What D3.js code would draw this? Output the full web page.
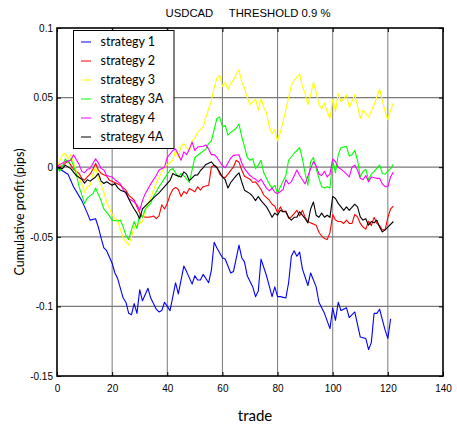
<!DOCTYPE html>
<html>
<head>
<meta charset="utf-8">
<script src="https://cdn.jsdelivr.net/npm/d3@7"></script>
<style>
  body { margin: 0; background: #fff; }
  svg { display: block; }
</style>
</head>
<body>
<svg id="chart" width="457" height="429"></svg>
<script>
// Cumulative profit per trade, one [trade, profit] list per strategy
const strategy1 = [[0,0],[4,-0.005],[6,-0.014],[9,-0.024],[11,-0.033],[12,-0.038],[14,-0.037],[15,-0.043],[16,-0.051],[17,-0.058],[18,-0.060],[20,-0.069],[21,-0.076],[22,-0.080],[23,-0.087],[24,-0.094],[25,-0.097],[26,-0.105],[27,-0.106],[28,-0.098],[29,-0.105],[30,-0.088],[31,-0.096],[33,-0.087],[34,-0.094],[36,-0.102],[37,-0.104],[38,-0.103],[39,-0.097],[40,-0.100],[41,-0.103],[43,-0.083],[44,-0.091],[46,-0.071],[47,-0.075],[49,-0.084],[50,-0.078],[51,-0.081],[52,-0.081],[53,-0.077],[55,-0.083],[56,-0.074],[57,-0.054],[58,-0.058],[60,-0.065],[61,-0.066],[63,-0.076],[64,-0.075],[66,-0.056],[67,-0.065],[68,-0.068],[69,-0.078],[71,-0.086],[72,-0.093],[73,-0.089],[74,-0.066],[76,-0.078],[78,-0.093],[79,-0.086],[80,-0.093],[81,-0.093],[83,-0.094],[84,-0.083],[85,-0.064],[86,-0.060],[87,-0.064],[88,-0.061],[89,-0.073],[91,-0.085],[92,-0.076],[94,-0.086],[95,-0.097],[97,-0.105],[99,-0.116],[100,-0.101],[101,-0.110],[102,-0.097],[103,-0.103],[105,-0.101],[106,-0.108],[108,-0.104],[110,-0.122],[112,-0.123],[113,-0.131],[114,-0.126],[115,-0.105],[116,-0.105],[117,-0.102],[119,-0.117],[120,-0.123],[121,-0.109]];

const strategy2 = [[0,0],[2,0.001],[4,0.0045],[5,0.0015],[6,-0.0015],[8,-0.0045],[9,-0.008],[10,-0.0093],[11,-0.007],[12,-0.005],[13,-0.0015],[14,0.0027],[15,-0.002],[16,-0.0045],[18,-0.0063],[19,-0.0093],[21,-0.011],[23,-0.013],[25,-0.0165],[26,-0.020],[28,-0.0237],[29,-0.0285],[30,-0.033],[31,-0.0357],[33,-0.036],[34,-0.0357],[35,-0.035],[36,-0.037],[37,-0.035],[38,-0.027],[39,-0.030],[40,-0.026],[41,-0.020],[42,-0.016],[43,-0.0145],[44,-0.016],[45,-0.021],[46,-0.0175],[47,-0.019],[48,-0.0153],[50,-0.0177],[51,-0.014],[52,-0.0165],[53,-0.014],[55,-0.013],[56,0.0002],[57,0.0014],[58,0.0002],[59,-0.005],[60,-0.007],[61,-0.0075],[62,-0.005],[64,0.0002],[65,0.005],[66,0.0036],[67,-0.002],[68,-0.0065],[70,-0.0086],[71,-0.011],[72,-0.0105],[73,-0.013],[74,-0.016],[75,-0.020],[77,-0.0237],[78,-0.0266],[79,-0.028],[80,-0.0327],[81,-0.0285],[82,-0.032],[83,-0.0315],[84,-0.0366],[85,-0.0357],[87,-0.031],[88,-0.035],[89,-0.031],[90,-0.036],[91,-0.039],[92,-0.040],[94,-0.0417],[95,-0.0467],[96,-0.0494],[97,-0.0512],[98,-0.052],[99,-0.047],[100,-0.034],[101,-0.038],[102,-0.039],[103,-0.039],[104,-0.0404],[105,-0.038],[106,-0.0404],[107,-0.0404],[108,-0.034],[109,-0.0357],[110,-0.0404],[111,-0.043],[112,-0.0445],[113,-0.0388],[114,-0.042],[115,-0.036],[116,-0.0404],[117,-0.042],[118,-0.045],[119,-0.045],[120,-0.036],[121,-0.030],[122,-0.028]];

const strategy3 = [[0,0],[2,0.009],[3,0.010],[4,0.006],[5,0.009],[6,0.003],[7,-0.003],[9,-0.012],[10,-0.018],[11,-0.014],[12,-0.013],[13,-0.005],[14,0.000],[15,-0.008],[17,-0.018],[18,-0.025],[20,-0.034],[21,-0.037],[22,-0.038],[23,-0.045],[24,-0.051],[26,-0.056],[27,-0.050],[28,-0.043],[31,-0.039],[32,-0.031],[34,-0.022],[36,-0.011],[39,0.000],[42,0.005],[43,0.012],[44,0.007],[45,0.015],[46,0.017],[48,0.011],[49,0.019],[50,0.021],[51,0.025],[53,0.029],[54,0.036],[55,0.042],[56,0.048],[57,0.057],[58,0.064],[59,0.066],[60,0.058],[61,0.061],[62,0.056],[63,0.060],[64,0.0625],[65,0.067],[66,0.070],[67,0.061],[68,0.057],[69,0.050],[70,0.045],[72,0.049],[73,0.041],[74,0.049],[75,0.043],[76,0.039],[77,0.029],[78,0.024],[79,0.027],[80,0.019],[81,0.025],[82,0.033],[84,0.050],[85,0.059],[86,0.0625],[88,0.067],[89,0.058],[90,0.053],[91,0.045],[92,0.052],[93,0.061],[94,0.054],[95,0.045],[96,0.042],[97,0.046],[98,0.040],[99,0.035],[100,0.049],[101,0.040],[102,0.053],[103,0.047],[104,0.049],[105,0.052],[106,0.043],[108,0.052],[109,0.044],[110,0.035],[111,0.041],[113,0.036],[115,0.045],[117,0.056],[118,0.048],[119,0.040],[120,0.034],[121,0.041],[122,0.046]];

const strategy3A = [[0,0],[1,-0.003],[2,0.001],[3,0.006],[4,0.003],[5,0.006],[6,0.001],[7,-0.005],[8,-0.014],[10,-0.026],[11,-0.022],[13,-0.019],[14,-0.015],[16,-0.024],[17,-0.030],[19,-0.035],[20,-0.038],[22,-0.0386],[23,-0.038],[24,-0.043],[25,-0.049],[26,-0.052],[27,-0.045],[28,-0.039],[29,-0.044],[30,-0.034],[31,-0.036],[32,-0.030],[34,-0.026],[35,-0.021],[37,-0.014],[39,-0.008],[41,-0.002],[42,-0.001],[44,-0.007],[45,-0.0045],[46,-0.006],[48,-0.011],[49,-0.002],[50,0.007],[52,0.010],[54,0.013],[55,0.017],[56,0.019],[57,0.027],[58,0.035],[59,0.036],[60,0.029],[61,0.030],[62,0.023],[63,0.025],[65,0.028],[66,0.031],[67,0.022],[68,0.015],[69,0.007],[70,0.005],[71,0.006],[72,-0.001],[73,0.0015],[74,0.005],[75,-0.004],[77,-0.012],[78,-0.015],[79,-0.013],[80,-0.019],[81,-0.014],[83,-0.006],[84,0.005],[86,0.010],[87,0.012],[88,0.014],[89,0.006],[90,-0.0045],[91,-0.013],[92,0.004],[93,0.007],[94,-0.001],[95,-0.008],[96,-0.014],[97,-0.015],[98,-0.014],[99,-0.015],[100,0.005],[101,-0.004],[102,0.009],[103,0.014],[105,0.015],[106,0.008],[107,0.009],[108,0.012],[109,0.005],[110,-0.007],[111,-0.003],[112,-0.0015],[113,-0.009],[114,-0.005],[115,-0.003],[117,0.0015],[118,-0.0045],[119,-0.005],[120,-0.003],[121,-0.001],[122,0.002]];

const strategy4 = [[0,0],[1,0.002],[3,0.004],[5,0.005],[6,0.009],[8,0.002],[9,-0.003],[10,-0.004],[11,-0.0015],[12,-0.001],[14,0.006],[15,0.003],[16,-0.001],[17,-0.002],[18,-0.006],[20,-0.007],[21,-0.009],[23,-0.012],[24,-0.016],[25,-0.019],[26,-0.0225],[28,-0.025],[29,-0.027],[30,-0.031],[31,-0.024],[32,-0.019],[34,-0.012],[36,-0.006],[37,-0.002],[39,0.000],[40,0.007],[42,0.012],[43,0.013],[44,0.009],[45,0.005],[46,0.011],[47,0.009],[48,0.013],[49,0.018],[50,0.012],[51,0.0145],[53,0.015],[54,0.016],[55,0.013],[56,0.009],[57,0.009],[58,0.007],[60,0.001],[61,-0.0005],[62,0.003],[63,0.0065],[64,0.0085],[66,0.009],[67,0.003],[68,-0.001],[70,-0.006],[71,-0.0075],[72,-0.0085],[73,-0.0105],[74,-0.0085],[75,-0.012],[76,-0.015],[77,-0.017],[78,-0.015],[79,-0.018],[80,-0.019],[82,-0.016],[83,-0.009],[84,-0.012],[85,-0.0105],[87,-0.002],[88,-0.006],[89,-0.009],[90,-0.012],[92,-0.001],[93,0.004],[94,0.001],[95,-0.005],[96,-0.006],[97,-0.003],[98,-0.007],[99,-0.005],[100,0.006],[101,0.004],[102,0.000],[104,-0.003],[106,-0.007],[107,0.000],[108,0.0015],[109,-0.002],[110,-0.008],[111,-0.009],[112,-0.006],[113,-0.0105],[114,-0.007],[116,-0.008],[117,-0.008],[118,-0.012],[119,-0.014],[120,-0.014],[121,-0.007],[122,-0.0035]];

const strategy4A = [[0,0],[2,-0.001],[3,0.0015],[5,-0.001],[6,-0.0035],[7,-0.006],[9,-0.0086],[10,-0.0115],[11,-0.009],[12,-0.010],[14,-0.007],[15,-0.0045],[16,-0.010],[17,-0.0117],[18,-0.0105],[20,-0.013],[21,-0.0117],[22,-0.0147],[23,-0.0165],[25,-0.018],[26,-0.0226],[27,-0.0266],[28,-0.030],[29,-0.033],[30,-0.037],[31,-0.030],[33,-0.026],[35,-0.022],[37,-0.0185],[39,-0.014],[41,-0.0095],[42,-0.0045],[43,-0.0057],[45,-0.007],[46,-0.0034],[47,-0.005],[48,-0.0097],[50,-0.0057],[51,-0.0055],[52,-0.0025],[53,-0.0004],[54,0.002],[56,0.0038],[57,0.0014],[58,-0.0004],[59,-0.0034],[60,-0.007],[61,-0.009],[62,-0.015],[63,-0.011],[65,-0.006],[66,-0.004],[67,-0.0106],[68,-0.0165],[70,-0.019],[71,-0.021],[72,-0.024],[73,-0.021],[74,-0.024],[76,-0.0285],[77,-0.032],[78,-0.036],[79,-0.033],[80,-0.0345],[81,-0.031],[82,-0.032],[83,-0.032],[84,-0.036],[85,-0.038],[86,-0.036],[87,-0.036],[88,-0.032],[90,-0.037],[91,-0.040],[92,-0.030],[93,-0.025],[94,-0.0345],[95,-0.036],[96,-0.033],[97,-0.036],[98,-0.0345],[99,-0.036],[100,-0.021],[101,-0.0225],[102,-0.026],[103,-0.0285],[104,-0.031],[105,-0.0285],[106,-0.031],[108,-0.0266],[109,-0.0285],[110,-0.0357],[111,-0.038],[112,-0.037],[113,-0.0417],[114,-0.039],[115,-0.040],[116,-0.038],[117,-0.043],[118,-0.0465],[119,-0.045],[120,-0.043],[122,-0.039]];

const seriesNames = ["strategy 1", "strategy 2", "strategy 3", "strategy 3A", "strategy 4", "strategy 4A"];
const seriesColors = ["#0000ff", "#ff0000", "#ffff00", "#00ff00", "#ff00ff", "#000000"];
const seriesData = [strategy1, strategy2, strategy3, strategy3A, strategy4, strategy4A];

const xTicks = [0, 20, 40, 60, 80, 100, 120, 140];
const yTicks = [-0.15, -0.1, -0.05, 0, 0.05, 0.1];
const yTickLabels = ["-0.15", "-0.1", "-0.05", "0", "0.05", "0.1"];

const titleText = "USDCAD     THRESHOLD 0.9 %";
const xLabel = "trade";
const yLabel = "Cumulative profit (pips)";

const svg = d3.select("#chart");
const plot = { left: 57, right: 443, top: 28, bottom: 376 };

const x = d3.scaleLinear().domain([0, 140]).range([plot.left, plot.right]);
const y = d3.scaleLinear().domain([-0.15, 0.1]).range([plot.bottom, plot.top]);

// grid
const grid = svg.append("g");
grid.selectAll("line.vg").data(xTicks.slice(1, -1)).enter().append("line")
  .attr("x1", d => x(d)).attr("x2", d => x(d))
  .attr("y1", plot.top).attr("y2", plot.bottom)
  .attr("stroke", "#7a7a7a").attr("stroke-width", 1);
grid.selectAll("line.hg").data(yTicks.slice(1, -1)).enter().append("line")
  .attr("x1", plot.left).attr("x2", plot.right)
  .attr("y1", d => y(d)).attr("y2", d => y(d))
  .attr("stroke", "#7a7a7a").attr("stroke-width", 1.2);

// series
const line = d3.line().x(d => x(d[0])).y(d => y(d[1]));
svg.append("g").selectAll("path").data(seriesData).enter().append("path")
  .attr("d", line)
  .attr("fill", "none")
  .attr("stroke", (d, i) => seriesColors[i])
  .attr("stroke-width", 1.1)
  .attr("stroke-linejoin", "round");

// axes box with inward ticks
const axisG = svg.append("g");
const bottomAxis = d3.axisBottom(x).tickValues(xTicks).tickSize(-4).tickPadding(9).tickFormat(d3.format("d"));
const topAxis = d3.axisTop(x).tickValues(xTicks).tickSize(-4).tickFormat("");
const leftAxis = d3.axisLeft(y).tickValues(yTicks).tickSize(-4).tickPadding(4).tickFormat((d, i) => yTickLabels[i]);
const rightAxis = d3.axisRight(y).tickValues(yTicks).tickSize(-4).tickFormat("");

function styleAxis(g) {
  g.select(".domain").remove();
  g.selectAll(".tick line").attr("stroke", "#000").attr("stroke-width", 1);
  g.selectAll(".tick text").attr("fill", "#000")
    .style("font-family", "'Liberation Sans', Arial, sans-serif").style("font-size", "10px");
}
axisG.append("g").attr("transform", `translate(0,${plot.bottom})`).call(bottomAxis).call(styleAxis);
axisG.append("g").attr("transform", `translate(0,${plot.top})`).call(topAxis).call(styleAxis);
axisG.append("g").attr("transform", `translate(${plot.left},0)`).call(leftAxis).call(styleAxis);
axisG.append("g").attr("transform", `translate(${plot.right},0)`).call(rightAxis).call(styleAxis);

axisG.append("rect")
  .attr("x", plot.left).attr("y", plot.top)
  .attr("width", plot.right - plot.left).attr("height", plot.bottom - plot.top)
  .attr("fill", "none").attr("stroke", "#000").attr("stroke-width", 1.6);

// title and axis labels
svg.append("text")
  .attr("x", (plot.left + plot.right) / 2 - 2).attr("y", 17)
  .attr("text-anchor", "middle")
  .style("white-space", "pre")
  .style("font-family", "'Liberation Sans', Arial, sans-serif").style("font-size", "11.3px")
  .text(titleText);

svg.append("text")
  .attr("x", 255).attr("y", 421)
  .attr("text-anchor", "middle")
  .style("font-family", "Lato, 'Open Sans', sans-serif").style("font-size", "15px")
  .text(xLabel);

svg.append("text")
  .attr("transform", `translate(24,${(plot.top + plot.bottom) / 2 + 10}) rotate(-90)`)
  .attr("text-anchor", "middle")
  .style("font-family", "Lato, 'Open Sans', sans-serif").style("font-size", "12.5px")
  .text(yLabel);

// legend
const legend = svg.append("g");
legend.append("rect")
  .attr("x", 73.5).attr("y", 30.5).attr("width", 100.5).attr("height", 118)
  .attr("fill", "#fff").attr("stroke", "#000").attr("stroke-width", 1);
const rows = legend.selectAll("g.row").data(seriesNames).enter().append("g")
  .attr("transform", (d, i) => `translate(0,${42 + i * 19})`);
rows.append("line")
  .attr("x1", 81).attr("x2", 91).attr("y1", 0).attr("y2", 0)
  .attr("stroke", (d, i) => seriesColors[i]).attr("stroke-width", 1);
rows.append("text")
  .attr("x", 100.5).attr("y", 0).attr("dy", "0.35em")
  .style("font-family", "Lato, 'Open Sans', sans-serif").style("font-size", "12.5px")
  .text(d => d);
</script>
</body>
</html>
